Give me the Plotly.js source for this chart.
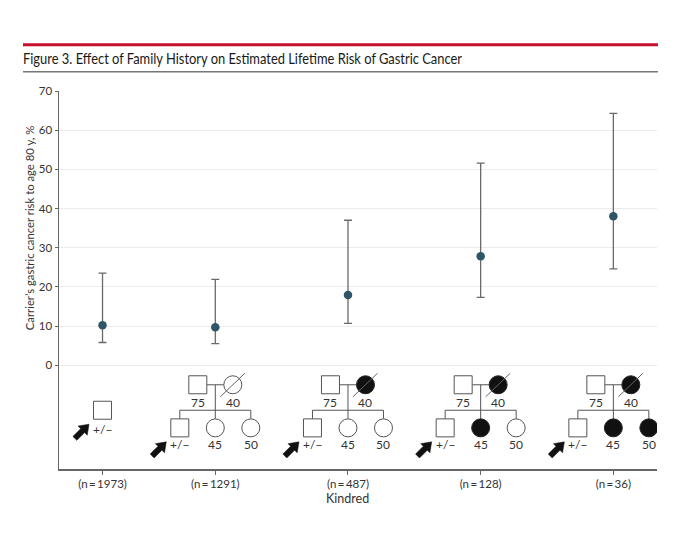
<!DOCTYPE html>
<html>
<head>
<meta charset="utf-8">
<script src="https://cdn.plot.ly/plotly-3.0.1.min.js"></script>
<style>html,body{margin:0;padding:0;background:#fff;}#chart{width:680px;height:544px;}</style>
</head>
<body>
<div id="chart"></div>
<script>
// ---- data ----
var kindredLabels = ['(n\u2009=\u20091973)', '(n\u2009=\u20091291)', '(n\u2009=\u2009487)', '(n\u2009=\u2009128)', '(n\u2009=\u200936)'];
var riskPct = [10.2, 9.7, 17.9, 27.8, 38.0];
var lowerPct = [5.8, 5.5, 10.7, 17.3, 24.6];
var upperPct = [23.5, 21.9, 37.0, 51.6, 64.3];
var yTicks = [0, 10, 20, 30, 40, 50, 60, 70];
// pedigree content per kindred (null = proband only)
var motherAffected = [null, false, true, true, true];
var sister45Affected = [null, false, false, true, true];
var sister50Affected = [null, false, false, false, true];
var fatherAge = '75', motherAge = '40', sisterAges = ['45', '50'], probandLabel = '+/\u2212';

// ---- layout geometry ----
var kindredX = [0.15, 1, 2, 3, 4];
var X_RANGE = [-0.178, 4.329], Y_RANGE = [-26.5, 70];
var PX_X = 598 / (X_RANGE[1] - X_RANGE[0]);
var PX_Y = 378 / (Y_RANGE[1] - Y_RANGE[0]);
function ox(px) { return px / PX_X; }
function oy(px) { return -px / PX_Y; } // pixel offset downward -> data

var errLow = riskPct.map(function (v, i) { return v - lowerPct[i]; });
var errHigh = upperPct.map(function (v, i) { return v - riskPct[i]; });

var trace = {
  x: kindredX, y: riskPct, type: 'scatter', mode: 'markers',
  marker: { color: '#2f5668', size: 8.5 },
  error_y: { type: 'data', symmetric: false, array: errHigh, arrayminus: errLow,
             color: '#6a6a6a', thickness: 1.3, width: 4 },
  hoverinfo: 'skip', showlegend: false
};

var LINE = { color: '#555', width: 1 };
var shapes = [], annotations = [];
function sq(cx, cy, half) {
  shapes.push({ type: 'rect', xref: 'x', yref: 'y', x0: cx - ox(half), x1: cx + ox(half),
    y0: cy + oy(half), y1: cy - oy(half), line: LINE, fillcolor: '#fff', layer: 'above' });
}
function circ(cx, cy, r, filled) {
  shapes.push({ type: 'circle', xref: 'x', yref: 'y', x0: cx - ox(r), x1: cx + ox(r),
    y0: cy + oy(r), y1: cy - oy(r), line: { color: filled ? '#222' : '#555', width: 1 },
    fillcolor: filled ? '#111' : '#fff', layer: 'above' });
}
function seg(x0, y0, x1, y1, color) {
  shapes.push({ type: 'line', xref: 'x', yref: 'y', x0: x0, y0: y0, x1: x1, y1: y1,
    line: { color: color || '#555', width: 1 }, layer: 'above' });
}
function label(x, y, t) {
  annotations.push({ x: x, y: y, xref: 'x', yref: 'y', text: t, showarrow: false,
    font: { size: 12, color: '#333' }, xanchor: 'center', yanchor: 'middle' });
}
function arrow(cx, cy) {
  var tx = -13.5, ty = 14;
  var s = Math.SQRT1_2;
  var u = [s, -s], n = [s, s];
  var pts = [[0, 0], [-9, 6.5], [-9, 2.8], [-20, 2.8], [-20, -2.8], [-9, -2.8], [-9, -6.5]];
  var d = pts.map(function (p, k) {
    var px = tx + p[0] * u[0] + p[1] * n[0];
    var py = ty + p[0] * u[1] + p[1] * n[1];
    return (k ? 'L' : 'M') + (cx + ox(px)).toFixed(4) + ',' + (cy + oy(py)).toFixed(4);
  }).join(' ') + ' Z';
  shapes.push({ type: 'path', xref: 'x', yref: 'y', path: d, fillcolor: '#111',
    line: { color: '#111', width: 0.5 }, layer: 'above' });
}

var PARENT_Y = -5.0, PARENT_LBL = -9.6, SIB_Y = -11.5, CHILD_Y = -16.0, CHILD_LBL = -20.3;
var HALF = 9, R = 9;
kindredX.forEach(function (cx, i) {
  if (motherAffected[i] === null) {
    sq(cx, SIB_Y, HALF);
    label(cx, CHILD_Y - 0.3, probandLabel);
    arrow(cx, SIB_Y);
    return;
  }
  var fx = cx + ox(-17.5), mx = cx + ox(17.5);
  var c1 = cx + ox(-35.5), c3 = cx + ox(35.5);
  var childTop = CHILD_Y + oy(-HALF);
  seg(fx + ox(HALF), PARENT_Y, mx - ox(R), PARENT_Y);
  seg(cx, PARENT_Y, cx, childTop);
  seg(c1, SIB_Y, c3, SIB_Y);
  seg(c1, SIB_Y, c1, childTop);
  seg(c3, SIB_Y, c3, childTop);
  sq(fx, PARENT_Y, HALF);
  circ(mx, PARENT_Y, R, motherAffected[i]);
  seg(mx + ox(-12.5), PARENT_Y + oy(12), mx + ox(12), PARENT_Y + oy(-11.5), '#666');
  sq(c1, CHILD_Y, HALF);
  circ(cx, CHILD_Y, R, sister45Affected[i]);
  circ(c3, CHILD_Y, R, sister50Affected[i]);
  label(fx, PARENT_LBL, fatherAge);
  label(mx, PARENT_LBL, motherAge);
  label(c1, CHILD_LBL, probandLabel);
  label(cx, CHILD_LBL, sisterAges[0]);
  label(c3, CHILD_LBL, sisterAges[1]);
  arrow(c1, CHILD_Y);
});

// header rules
shapes.push({ type: 'line', xref: 'paper', yref: 'paper', x0: -0.0602, x1: 1.0017, y0: 1.1225, y1: 1.1225,
  line: { color: '#c8102e', width: 3 } });
shapes.push({ type: 'line', xref: 'paper', yref: 'paper', x0: -0.0602, x1: 1.0017, y0: 1.051, y1: 1.051,
  line: { color: '#777', width: 1.5 } });

annotations.push({ xref: 'paper', yref: 'y', x: -0.05, y: 35, text: 'Carrier\u2019s gastric cancer risk to age 80 y, %',
  textangle: -90, showarrow: false, font: { size: 11.3, color: '#333' }, xanchor: 'center', yanchor: 'middle' });
annotations.push({ xref: 'x', yref: 'paper', x: 2, y: -0.079, text: 'Kindred', showarrow: false,
  font: { size: 12.5, color: '#333' }, xanchor: 'center', yanchor: 'middle' });

var layout = {
  width: 680, height: 544,
  margin: { l: 59, r: 23, t: 91.3, b: 74.7 },
  paper_bgcolor: '#fff', plot_bgcolor: '#fff',
  font: { family: 'Lato, "Open Sans", sans-serif', color: '#333', size: 11 },
  title: { text: 'Figure 3. Effect of Family History on Estimated Lifetime Risk of Gastric Cancer',
    x: 23 / 680, xanchor: 'left', xref: 'container', y: 1 - 59 / 544, yanchor: 'middle', yref: 'container',
    font: { family: 'Lato, sans-serif', size: 15, color: '#1a1a1a' } },
  xaxis: { range: X_RANGE, tickmode: 'array', tickvals: kindredX, ticktext: kindredLabels,
    showgrid: false, zeroline: false, showline: true, linecolor: '#666', linewidth: 1.5,
    ticks: 'outside', ticklen: 4, tickcolor: '#666', tickfont: { size: 11.5, color: '#333' }, fixedrange: true },
  yaxis: { range: Y_RANGE, tickmode: 'array', tickvals: yTicks, ticktext: yTicks.map(String),
    showgrid: true, gridcolor: '#ebebeb', gridwidth: 1, zeroline: false, showline: true,
    linecolor: '#666', linewidth: 1.5, ticks: 'outside', ticklen: 3, tickcolor: '#666',
    tickfont: { size: 11.5, color: '#333' }, fixedrange: true },
  shapes: shapes, annotations: annotations
};
Plotly.newPlot('chart', [trace], layout, { displayModeBar: false, staticPlot: true }).then(function () {
  // condense the title to the reference's narrow typeface width
  var t = document.querySelector('#chart .gtitle');
  if (t) { t.setAttribute('textLength', '439'); t.setAttribute('lengthAdjust', 'spacingAndGlyphs'); }
});
</script>
</body>
</html>
